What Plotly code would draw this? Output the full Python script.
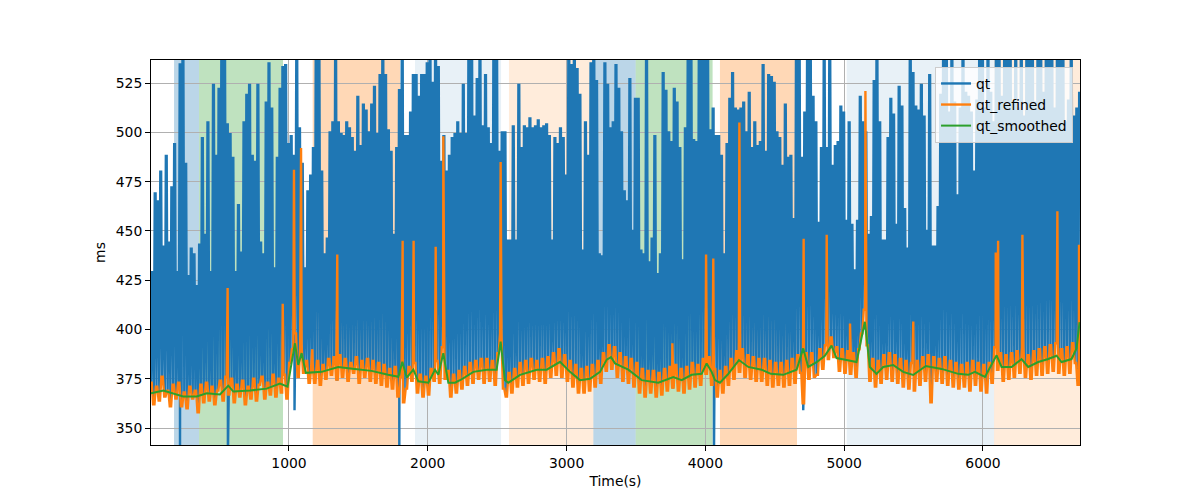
import plotly.graph_objects as go

# ---------------- data ----------------
# qt_refined sampled every 20 s starting at t = 6 s
ref_start = 6
ref_step = 20
qt_refined_vals = [
    373,362,371,364,376,366,369,361,372,365,373,361,368,360,371,365,369,358,372,363,
    373,364,371,362,369,374,364,376,367,375,363,372,366,374,362,371,365,375,364,372,
    376,365,373,367,377,366,375,368,377,365,383,390,398,376,392,378,384,373,382,373,
    384,372,382,375,385,377,386,374,387,376,385,374,383,378,386,373,384,376,385,374,
    384,373,383,372,382,371,380,370,381,366,376,363,370,381,374,383,368,377,366,376,
    367,380,374,384,373,391,375,379,366,377,368,379,370,381,372,383,373,384,375,385,
    373,385,374,384,372,388,398,370,366,378,368,380,371,383,372,384,373,385,375,384,
    374,385,373,386,376,388,377,390,376,387,374,384,371,382,368,380,368,381,369,382,
    371,384,373,388,379,392,380,391,376,388,374,386,373,385,371,383,368,380,366,379,
    368,379,366,378,367,380,369,381,370,382,369,380,368,381,370,383,371,382,372,385,
    377,386,372,380,366,379,368,381,372,385,375,389,378,390,376,387,375,386,374,385,
    374,385,372,384,371,383,372,383,371,384,372,385,373,387,378,362,388,375,388,376,
    377,390,380,392,385,396,386,391,379,390,378,389,377,388,376,390,398,410,392,374,
    385,371,384,373,387,375,388,374,387,373,385,371,384,370,383,369,384,372,386,374,
    387,363,386,374,385,373,386,372,384,371,383,370,382,371,383,369,384,372,383,369,
    382,368,383,373,391,379,388,374,387,375,388,376,389,378,391,376,387,375,389,377,
    390,377,391,378,392,379,393,378,390,377,391,378,393,383,372,
]
ref_hold = 5  # each refined sample is held +/- 5 s
# outliers kept in qt_refined
refined_spike_t = [558, 955, 1036, 1087, 1168, 1348, 1819, 1898, 2057, 2112, 2525, 3762,
                   4005, 4057, 4245, 4708, 4874, 5042, 5153, 5498, 6092, 6109, 6284, 6536, 6692]
refined_spike_v = [421, 413, 481, 492, 390, 438, 445, 445, 442, 498, 485, 393,
                   438, 436, 505, 446, 448, 403, 521, 404, 439, 445, 448, 460, 443]

# raw qt: one beat between each pair of refined samples, held from +7 s to +13 s
qt_beat_on = 7
qt_beat_off = 13
qt_spike_vals = [
    429,469,465,480,442,488,444,472,494,429,535,545,484,427,441,438,422,443,497,448,
    505,429,524,488,522,545,545,504,499,487,429,463,439,505,519,524,488,485,524,444,
    438,515,535,512,431,487,522,533,534,494,498,488,545,502,484,431,
    470,478,492,545,545,480,438,446,500,505,545,505,499,498,505,502,497,490,518,493,
    514,511,500,514,523,499,529,545,529,501,490,448,492,522,545,498,498,510,529,529,
    518,529,529,535,545,525,545,533,485,498,480,488,497,499,505,499,
    524,499,545,545,508,527,545,503,529,502,494,545,545,490,500,500,445,445,503,445,
    524,492,503,502,507,502,503,506,502,503,504,498,445,497,494,502,497,478,545,534,
    545,532,519,440,505,488,535,545,526,438,437,535,524,502,505,534,
    522,500,470,465,527,450,517,517,440,438,545,434,446,498,428,438,530,521,500,495,
    522,515,492,435,502,545,545,496,495,545,545,545,545,501,512,498,498,488,438,494,
    517,530,512,511,512,515,500,520,492,505,493,495,534,490,529,528,
    525,500,497,483,514,487,488,456,545,545,487,510,545,545,518,505,454,492,545,492,
    545,483,493,495,513,510,455,505,453,430,455,518,505,500,448,457,526,545,505,445,
    445,497,517,509,453,523,513,461,441,545,530,513,511,524,508,450,529,442,442,462,
    519,545,545,510,545,515,468,512,545,520,518,510,480,516,545,545,512,545,520,505,
    545,545,518,545,545,545,515,545,512,545,508,545,545,545,515,545,545,520,545,545,
    545,512,545,545,545,505,516,545,508,512,520,510,545,545,545,
]
# downward excursions of raw qt
qt_dip_t = [215, 560, 1040, 1795, 4062, 4705]
qt_dip_v = [335, 335, 359, 335, 335, 359]

# smoothed qt
smooth_t = [6, 95, 238, 335, 407, 503, 563, 599, 719, 839, 935, 990, 1043, 1067, 1091, 1122,
            1235, 1355, 1475, 1595, 1715, 1788, 1817, 1848, 1896, 1932, 2004, 2052, 2076,
            2112, 2148, 2196, 2239, 2328, 2424, 2496, 2525, 2556, 2580, 2665, 2785, 2857,
            2953, 3025, 3097, 3169, 3241, 3289, 3320, 3349, 3445, 3541, 3661, 3709, 3769,
            3829, 3901, 3973, 4009, 4045, 4069, 4105, 4165, 4242, 4309, 4405, 4472, 4561,
            4657, 4705, 4741, 4801, 4861, 4909, 4945, 5017, 5089, 5149, 5185, 5233, 5281,
            5353, 5425, 5497, 5588, 5702, 5822, 5894, 5942, 6014, 6098, 6134, 6206, 6278,
            6326, 6398, 6470, 6530, 6566, 6638, 6674, 6696]
smooth_v = [367.6, 369.0, 366.0, 366.0, 367.6, 367.0, 371.5, 368.5, 369.0, 370.0, 372.6,
            371.0, 393.0, 382.0, 388.0, 378.0, 378.5, 381.0, 380.0, 379.0, 377.0, 376.0,
            383.6, 375.6, 379.6, 373.7, 373.0, 379.6, 377.0, 388.0, 373.0, 373.0, 374.5,
            378.5, 379.6, 379.6, 393.8, 374.3, 373.0, 377.0, 379.6, 379.6, 383.6, 378.5,
            374.3, 375.0, 378.5, 384.7, 386.0, 382.8, 379.6, 374.3, 373.0, 374.3, 375.9,
            374.3, 377.0, 377.5, 382.8, 378.5, 374.3, 373.0, 377.5, 384.5, 381.0, 379.6,
            377.5, 377.0, 379.6, 390.4, 381.0, 383.4, 386.7, 391.8, 385.5, 384.5, 383.5,
            403.9, 381.0, 377.5, 381.0, 382.0, 378.5, 376.9, 381.5, 380.0, 377.5, 377.0,
            378.5, 375.9, 386.9, 381.0, 381.0, 385.0, 381.0, 383.5, 385.0, 386.7, 383.5,
            385.0, 390.4, 403.7]

# shaded intervals (annotation segments)
span_start = [172, 352, 1171, 1908, 2585, 3193, 3498, 4105, 5018, 6080]
span_end = [352, 957, 1800, 2528, 3193, 3498, 4052, 4660, 6080, 6700]
span_color = ['#1f77b4', '#2ca02c', '#ff7f0e', '#1f77b4', '#ff7f0e',
              '#1f77b4', '#2ca02c', '#ff7f0e', '#1f77b4', '#ff7f0e']
span_alpha = [0.3, 0.3, 0.3, 0.1, 0.15, 0.3, 0.3, 0.3, 0.1, 0.15]

x_ticks = [1000, 2000, 3000, 4000, 5000, 6000]
y_ticks = [350, 375, 400, 425, 450, 475, 500, 525]

# ---------------- build series ----------------
ref_t = [ref_start + ref_step * k for k in range(len(qt_refined_vals))]

refined_pts = sorted([(t - ref_hold, v) for t, v in zip(ref_t, qt_refined_vals)]
                     + [(t + ref_hold, v) for t, v in zip(ref_t, qt_refined_vals)]
                     + list(zip(refined_spike_t, refined_spike_v)))
qt_pts = sorted(list(zip(ref_t, qt_refined_vals))
                + [(t + qt_beat_on, v) for t, v in zip(ref_t, qt_spike_vals)]
                + [(t + qt_beat_off, v) for t, v in zip(ref_t, qt_spike_vals)]
                + list(zip(qt_dip_t, qt_dip_v)))

C0, C1, C2 = '#1f77b4', '#ff7f0e', '#2ca02c'

fig = go.Figure()
fig.add_trace(go.Scatter(x=[p[0] for p in qt_pts], y=[p[1] for p in qt_pts], mode='lines',
                         name='qt', line=dict(color=C0, width=2.4, simplify=False)))
fig.add_trace(go.Scatter(x=[p[0] for p in refined_pts], y=[p[1] for p in refined_pts], mode='lines',
                         name='qt_refined', line=dict(color=C1, width=2.4, simplify=False)))
fig.add_trace(go.Scatter(x=smooth_t, y=smooth_v, mode='lines', name='qt_smoothed',
                         line=dict(color=C2, width=2)))

for s, e, c, a in zip(span_start, span_end, span_color, span_alpha):
    fig.add_shape(type='rect', xref='x', yref='paper', x0=s, x1=e, y0=0, y1=1,
                  fillcolor=c, opacity=a, line=dict(width=0), layer='below')

font = dict(family='DejaVu Sans', size=13.9, color='black')
fig.update_layout(
    width=1200, height=500, autosize=False,
    margin=dict(l=151, r=120, t=60, b=55),
    paper_bgcolor='white', plot_bgcolor='white',
    font=font,
    showlegend=True,
    legend=dict(x=0.9925, y=0.982, xanchor='right', yanchor='top',
                bgcolor='rgba(255,255,255,0.8)', bordercolor='#cccccc', borderwidth=1,
                font=font, tracegroupgap=0),
)
axis_common = dict(showline=True, linecolor='black', linewidth=1, mirror=True,
                   ticks='outside', ticklen=5, tickwidth=1, tickcolor='black',
                   showgrid=True, gridcolor='#b0b0b0', gridwidth=1, zeroline=False,
                   tickfont=font)
fig.update_xaxes(range=[6, 6699], tickvals=x_ticks, ticktext=[str(v) for v in x_ticks],
                 title=dict(text='Time(s)', font=font, standoff=6), **axis_common)
fig.update_yaxes(range=[341.4, 536.7], tickvals=y_ticks, ticktext=[str(v) for v in y_ticks],
                 title=dict(text='ms', font=font, standoff=6), **axis_common)

fig.write_html('out.html')
